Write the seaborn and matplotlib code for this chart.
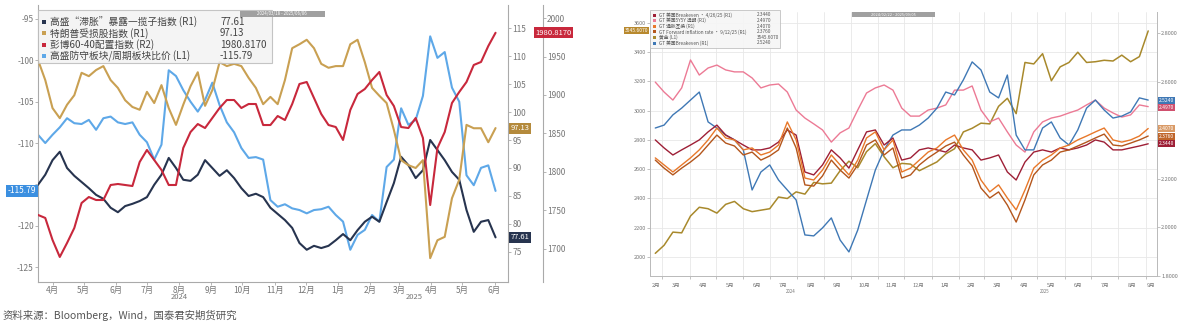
import numpy as np
import pandas as pd
import matplotlib
matplotlib.use('Agg')
import matplotlib.pyplot as plt
import matplotlib.dates as mdates
import matplotlib.transforms as mtransforms
from matplotlib.patches import Rectangle
from matplotlib.ticker import FixedLocator, FuncFormatter, NullFormatter
import seaborn as sns

sns.set_theme(style='white')
plt.rcParams['font.family'] = ['Noto Sans CJK SC', 'DejaVu Sans']
plt.rcParams['axes.unicode_minus'] = False

# ---------------- data: left panel (weekly, from 2024-03-18) ----------------
left_start = '2024-03-18'
stagflation_basket = [
    87.0, 88.8, 91.4, 92.9, 90.0, 88.6, 87.5, 86.4, 85.2, 84.5,
    82.9, 82.1, 83.2, 83.6, 84.1, 84.8, 87.0, 88.8, 91.8, 90.0,
    87.9, 87.7, 88.8, 91.4, 90.0, 88.6, 89.6, 88.2, 86.4, 85.0,
    85.4, 84.8, 82.9, 81.8, 80.7, 79.3, 76.6, 75.4, 76.1, 75.7,
    76.1, 77.1, 78.2, 77.1, 78.9, 80.4, 81.3, 80.4, 83.9, 87.3,
    92.0, 90.5, 88.2, 89.6, 95.0, 93.2, 91.4, 89.3, 87.9, 82.5,
    78.6, 80.4, 80.7, 77.61]
trump_loser = [
    109.3, 105.7, 100.7, 98.9, 101.3, 103.0, 107.0, 106.4, 107.5, 108.2,
    105.7, 104.3, 102.1, 100.9, 100.4, 103.6, 101.6, 104.8, 100.7, 97.7,
    101.3, 104.6, 107.1, 101.1, 103.9, 108.9, 108.2, 108.6, 108.2, 106.1,
    104.3, 101.4, 102.7, 101.4, 105.7, 111.4, 112.1, 112.9, 111.4, 108.6,
    107.9, 108.2, 108.2, 112.1, 112.9, 108.9, 104.3, 102.9, 101.6, 96.8,
    91.4, 90.5, 90.0, 91.4, 73.9, 77.1, 77.7, 84.6, 87.9, 97.7,
    97.1, 97.1, 94.6, 97.13]
bbg_6040 = [
    1744.2, 1740.3, 1711.7, 1689.6, 1707.8, 1727.3, 1759.7, 1767.5, 1763.6, 1763.6,
    1783.1, 1784.4, 1783.1, 1781.8, 1813.0, 1828.6, 1815.6, 1802.6, 1783.1, 1783.1,
    1831.2, 1851.9, 1862.3, 1857.1, 1870.1, 1883.1, 1893.5, 1893.5, 1883.1, 1888.3,
    1888.3, 1861.0, 1861.0, 1872.7, 1867.5, 1888.3, 1914.3, 1916.9, 1896.1, 1875.3,
    1861.0, 1858.4, 1841.6, 1880.5, 1901.3, 1907.8, 1919.5, 1929.9, 1900.0, 1885.7,
    1858.4, 1857.1, 1870.1, 1844.2, 1757.1, 1831.2, 1851.9, 1889.6, 1903.9, 1916.9,
    1939.0, 1942.9, 1963.6, 1980.817]
defensive_cyclical = [
    -109.0, -110.0, -109.0, -108.1, -107.0, -107.6, -107.7, -107.2, -108.4, -107.0,
    -106.8, -107.5, -107.7, -107.5, -109.0, -109.9, -112.0, -110.2, -101.2, -101.9,
    -103.6, -105.0, -106.2, -104.8, -102.7, -105.4, -107.5, -108.7, -110.6, -111.8,
    -111.7, -112.0, -116.9, -117.7, -117.4, -117.9, -118.1, -118.5, -118.1, -118.0,
    -117.7, -118.7, -119.5, -122.9, -121.1, -120.5, -118.7, -119.5, -112.9, -112.0,
    -105.8, -107.8, -107.2, -104.3, -97.1, -99.7, -99.0, -103.3, -105.0, -113.9,
    -115.1, -113.0, -112.7, -115.79]
left_names = ['高盛“滞胀”暴露一揽子指数 (R1)', '特朗普受损股指数 (R1)',
              '彭博60-40配置指数 (R2)', '高盛防守板块/周期板块比价 (L1)']
left_last = ['77.61', '97.13', '1980.8170', '-115.79']
left_colors = ['#27344f', '#c9a052', '#c8283c', '#5ea8e8']

# ---------------- data: right panel (every 10 days, from 2024-02-22) ----------------
right_start = '2024-02-22'
be_darkred = [
    2.360, 2.327, 2.298, 2.319, 2.339, 2.360, 2.393, 2.421, 2.380, 2.360,
    2.339, 2.319, 2.319, 2.327, 2.351, 2.401, 2.380, 2.228, 2.216, 2.257,
    2.319, 2.286, 2.244, 2.319, 2.393, 2.401, 2.339, 2.368, 2.277, 2.286,
    2.319, 2.327, 2.319, 2.310, 2.339, 2.327, 2.319, 2.277, 2.286, 2.298,
    2.228, 2.195, 2.269, 2.310, 2.319, 2.310, 2.327, 2.319, 2.327, 2.339,
    2.360, 2.351, 2.319, 2.319, 2.327, 2.335, 2.344]
be_pink = [
    2.598, 2.557, 2.524, 2.574, 2.689, 2.627, 2.656, 2.668, 2.648, 2.640,
    2.640, 2.615, 2.574, 2.586, 2.590, 2.557, 2.483, 2.450, 2.426, 2.401,
    2.351, 2.389, 2.409, 2.483, 2.553, 2.574, 2.586, 2.565, 2.491, 2.458,
    2.458, 2.483, 2.491, 2.504, 2.565, 2.565, 2.582, 2.483, 2.434, 2.450,
    2.393, 2.339, 2.310, 2.393, 2.434, 2.450, 2.458, 2.471, 2.483, 2.504,
    2.524, 2.491, 2.471, 2.454, 2.463, 2.504, 2.497]
be_orange = [
    2.286, 2.257, 2.228, 2.257, 2.286, 2.319, 2.360, 2.409, 2.368, 2.360,
    2.319, 2.327, 2.298, 2.310, 2.339, 2.434, 2.360, 2.203, 2.195, 2.236,
    2.298, 2.257, 2.216, 2.277, 2.368, 2.393, 2.319, 2.360, 2.228, 2.244,
    2.277, 2.310, 2.327, 2.360, 2.380, 2.319, 2.277, 2.195, 2.146, 2.175,
    2.121, 2.072, 2.154, 2.244, 2.277, 2.298, 2.327, 2.339, 2.360, 2.376,
    2.393, 2.409, 2.360, 2.351, 2.360, 2.376, 2.407]
be_brown = [
    2.277, 2.244, 2.216, 2.244, 2.269, 2.298, 2.339, 2.380, 2.347, 2.335,
    2.298, 2.310, 2.277, 2.294, 2.319, 2.409, 2.327, 2.175, 2.170, 2.212,
    2.277, 2.236, 2.203, 2.257, 2.339, 2.360, 2.298, 2.327, 2.203, 2.216,
    2.257, 2.286, 2.310, 2.335, 2.351, 2.298, 2.253, 2.162, 2.121, 2.146,
    2.092, 2.022, 2.113, 2.216, 2.257, 2.277, 2.310, 2.319, 2.335, 2.351,
    2.368, 2.384, 2.339, 2.335, 2.347, 2.360, 2.376]
gold = [
    2025, 2080, 2170, 2165, 2280, 2340, 2330, 2300, 2360, 2380,
    2330, 2310, 2320, 2330, 2410, 2400, 2445, 2430, 2510, 2500,
    2505, 2590, 2655, 2610, 2720, 2775, 2685, 2610, 2640, 2635,
    2590, 2620, 2650, 2705, 2740, 2855, 2880, 2915, 2910, 3030,
    3085, 2980, 3330, 3320, 3390, 3205, 3300, 3330, 3400, 3330,
    3335, 3345, 3340, 3380, 3335, 3370, 3545.6]
be_blue = [
    2.409, 2.421, 2.463, 2.491, 2.524, 2.557, 2.434, 2.409, 2.380, 2.360,
    2.319, 2.154, 2.228, 2.257, 2.195, 2.154, 2.113, 1.969, 1.965, 1.998,
    2.039, 1.948, 1.899, 1.989, 2.113, 2.236, 2.319, 2.380, 2.401, 2.401,
    2.421, 2.450, 2.491, 2.557, 2.545, 2.607, 2.681, 2.648, 2.557, 2.533,
    2.627, 2.380, 2.319, 2.319, 2.409, 2.434, 2.368, 2.339, 2.401, 2.491,
    2.524, 2.483, 2.450, 2.458, 2.475, 2.533, 2.524]
right_names = ['GT 美国Breakeven · 4/26/25 (R1)', 'GT 美国5Y5Y 远期 (R1)', 'GT 通胀互换 (R1)',
               'GT Forward inflation rate · 9/12/25 (R1)', '黄金 (L1)', 'GT 美国Breakeven (R1)']
right_last = ['2.3440', '2.4970', '2.4070', '2.3760', '3545.6070', '2.5240']
right_colors = ['#9e1f36', '#ec7a95', '#e8782a', '#b4561c', '#a8892c', '#3f78b5']

W, H = 1182, 321
fig = plt.figure(figsize=(W / 100, H / 100), dpi=100)
fig.patch.set_facecolor('white')


def fx(px):
    return px / W


def fy(py):
    return 1 - py / H


GRAY = '#777777'
SPINE = '#aaaaaa'


def plot_series(ax, dates, values, color, lw):
    df = pd.DataFrame({'date': dates, 'value': values})
    sns.lineplot(data=df, x='date', y='value', ax=ax, color=color, linewidth=lw, legend=False)
    ax.set_xlabel('')
    ax.set_ylabel('')


def tag(ax, xa, y, text, color, ha, size):
    tr = mtransforms.blended_transform_factory(ax.transAxes, ax.transData)
    ax.text(xa, y, text, transform=tr, ha=ha, va='center', fontsize=size, color='white',
            bbox=dict(boxstyle='square,pad=0.2', fc=color, ec='none'), clip_on=False, zorder=20)


def spread(vals, gap):
    order = np.argsort(vals)[::-1]
    out = list(vals)
    prev = None
    for i in order:
        v = vals[i]
        if prev is not None and prev - v < gap:
            v = prev - gap
        out[i] = v
        prev = v
    return out


def month_centers(xmin, xmax):
    starts = pd.date_range(xmin.to_period('M').to_timestamp(), xmax, freq='MS')
    centers, labels = [], []
    for s in starts:
        e = s + pd.offsets.MonthBegin(1)
        a, b = max(s, xmin), min(e, xmax)
        if (b - a).days >= 5:
            centers.append(a + (b - a) / 2)
            labels.append(f'{s.month}月')
    return centers, labels


def year_centers(xmin, xmax):
    out = []
    for y in range(xmin.year, xmax.year + 1):
        a = max(pd.Timestamp(f'{y}-01-01'), xmin)
        b = min(pd.Timestamp(f'{y + 1}-01-01'), xmax)
        out.append((a + (b - a) / 2, str(y)))
    return out

# ====================== LEFT PANEL ======================
axL = fig.add_axes([fx(38), fy(282), fx(470), 277 / H])
axR1 = axL.twinx()
axR2 = axL.twinx()
axR2.spines['right'].set_position(('outward', 25))

ldates = pd.date_range(left_start, periods=len(stagflation_basket), freq='7D')
plot_series(axL, ldates, defensive_cyclical, left_colors[3], 1.5)
plot_series(axR1, ldates, stagflation_basket, left_colors[0], 1.5)
plot_series(axR1, ldates, trump_loser, left_colors[1], 1.5)
plot_series(axR2, ldates, bbg_6040, left_colors[2], 1.5)

lx0, lx1 = pd.Timestamp('2024-03-18'), pd.Timestamp('2025-06-14')
axL.set_xlim(lx0, lx1)
axL.set_ylim(-126.8, -93.31)
axR1.set_ylim(69.64, 119.11)
axR2.set_ylim(1657.1, 2016.9)
axL.set_yticks(np.arange(-125, -94, 5))
axR1.set_yticks(np.arange(75, 116, 5))
axR2.set_yticks(np.arange(1700, 2001, 50))
# the last-value tag on the left axis covers the -115 label, as in the original
axL.yaxis.set_major_formatter(FuncFormatter(lambda v, p: '' if abs(v + 115) < 0.01 else f'{v:.0f}'))
for a in (axR1, axR2):
    a.yaxis.set_major_formatter(FuncFormatter(lambda v, p: f'{v:.0f}'))
for a in (axL, axR1, axR2):
    for s in a.spines.values():
        s.set_color(SPINE)
        s.set_linewidth(0.8)
    a.spines['top'].set_visible(False)
axL.spines['right'].set_visible(False)
for a in (axR1, axR2):
    a.spines['left'].set_visible(False)
    a.spines['bottom'].set_visible(False)
axL.tick_params(axis='y', left=True, length=2, width=0.6, color=SPINE, labelsize=6, labelcolor=GRAY, pad=1)
for a in (axR1, axR2):
    a.tick_params(axis='y', right=True, length=2, width=0.6, color=SPINE, labelsize=6, labelcolor=GRAY, pad=1)

axL.xaxis.set_major_locator(FixedLocator(mdates.date2num(pd.date_range('2024-04-01', lx1, freq='MS'))))
axL.xaxis.set_major_formatter(FuncFormatter(lambda v, p: f'{mdates.num2date(v).month}月'))
axL.tick_params(axis='x', bottom=True, length=2, width=0.6, color=SPINE, labelsize=6, labelcolor=GRAY, pad=1)
trL = mtransforms.blended_transform_factory(axL.transData, axL.transAxes)
for d, t in year_centers(lx0, lx1):
    axL.text(mdates.date2num(d) - 8, -0.055, t, transform=trL, ha='center', va='center',
             fontsize=5.5, color=GRAY)

tag(axL, -0.004, defensive_cyclical[-1], left_last[3], '#3b8fe0', 'right', 6)
tag(axR1, 1.006, stagflation_basket[-1], left_last[0], '#27344f', 'left', 5.5)
tag(axR1, 1.006, trump_loser[-1], left_last[1], '#b48a3c', 'left', 5.5)
tag(axR2, 1.058, bbg_6040[-1], left_last[2], '#c8283c', 'left', 5.5)

# legend box (left)
fig.add_artist(Rectangle((fx(38), fy(63)), fx(234), (63 - 10) / H, transform=fig.transFigure,
                         fc='#f3f3f3', ec='#bbbbbb', lw=0.8, alpha=0.85, zorder=5))
for i, (name, val, col) in enumerate(zip(left_names, left_last, left_colors)):
    yy = 22 + i * 11.3
    fig.add_artist(Rectangle((fx(42), fy(yy + 2)), fx(4), 4 / H, transform=fig.transFigure,
                             fc=col, ec='none', zorder=6))
    fig.text(fx(50), fy(yy), name, fontsize=7, color='#444444', va='center', ha='left', zorder=6)
    fig.text(fx(220), fy(yy), val, fontsize=7, color='#444444', va='center', ha='left', zorder=6)
fig.add_artist(Rectangle((fx(240), fy(17)), fx(85), 6 / H, transform=fig.transFigure,
                         fc='#a0a0a0', ec='none', zorder=6))
fig.text(fx(282), fy(14), '2024/03/18 - 2025/06/06', fontsize=3.2, color='white', ha='center',
         va='center', zorder=7)

# ====================== RIGHT PANEL ======================
axB = fig.add_axes([fx(650), fy(276), fx(507), 264 / H])
axBR = axB.twinx()
rdates = pd.date_range(right_start, periods=len(gold), freq='10D')

plot_series(axB, rdates, gold, right_colors[4], 1.1)
plot_series(axBR, rdates, be_pink, right_colors[1], 1.0)
plot_series(axBR, rdates, be_blue, right_colors[5], 1.0)
plot_series(axBR, rdates, be_darkred, right_colors[0], 1.0)
plot_series(axBR, rdates, be_brown, right_colors[3], 1.0)
plot_series(axBR, rdates, be_orange, right_colors[2], 1.0)

rx0, rx1 = pd.Timestamp('2024-02-16'), pd.Timestamp('2025-09-14')
axB.set_xlim(rx0, rx1)
axB.set_ylim(1870, 3675)
axBR.set_ylim(1.80, 2.8864)
axB.set_yticks(np.arange(2000, 3601, 200))
axBR.set_yticks(np.arange(1.8, 2.81, 0.2))
axB.yaxis.set_major_formatter(FuncFormatter(lambda v, p: f'{v:.0f}'))
# the stacked last-value tags cover the 2.4000 label, as in the original
axBR.yaxis.set_major_formatter(FuncFormatter(lambda v, p: '' if abs(v - 2.4) < 1e-6 else f'{v:.4f}'))
for a in (axB, axBR):
    for s in a.spines.values():
        s.set_color('#bbbbbb')
        s.set_linewidth(0.7)
    a.spines['top'].set_visible(False)
axB.grid(True, axis='both', color='#e8e8e8', lw=0.6)
axB.set_axisbelow(True)
axB.tick_params(axis='y', left=True, length=2, width=0.5, color=SPINE, labelsize=4, labelcolor=GRAY, pad=1)
axBR.tick_params(axis='y', right=True, length=2, width=0.5, color=SPINE, labelsize=4, labelcolor=GRAY, pad=1)

rcent, rlab = month_centers(rx0, rx1)
axB.xaxis.set_major_locator(FixedLocator(mdates.date2num(pd.date_range('2024-03-01', rx1, freq='MS'))))
axB.xaxis.set_major_formatter(NullFormatter())
axB.xaxis.set_minor_locator(FixedLocator(mdates.date2num(rcent)))
axB.xaxis.set_minor_formatter(FuncFormatter(lambda v, p: rlab[p] if p is not None and p < len(rlab) else ''))
axB.tick_params(axis='x', which='major', bottom=True, length=2, width=0.5, color=SPINE)
axB.tick_params(axis='x', which='minor', bottom=False, labelsize=4, labelcolor=GRAY, pad=1)
trB = mtransforms.blended_transform_factory(axB.transData, axB.transAxes)
for d, t in year_centers(rx0, rx1):
    axB.text(mdates.date2num(d), -0.058, t, transform=trB, ha='center', va='center',
             fontsize=3.2, color=GRAY)

tag(axB, -0.003, gold[-1], right_last[4], '#b8892e', 'right', 3.6)
r_tag_vals = [be_blue[-1], be_pink[-1], be_orange[-1], be_brown[-1], be_darkred[-1]]
r_tag_text = [right_last[5], right_last[1], right_last[2], right_last[3], right_last[0]]
r_tag_col = [right_colors[5], '#d0506e', '#d99a66', '#c0652a', right_colors[0]]
for v, t, c in zip(spread(r_tag_vals, 0.031), r_tag_text, r_tag_col):
    tag(axBR, 1.004, v, t, c, 'left', 3.6)

fig.add_artist(Rectangle((fx(650), fy(48)), fx(130), 38 / H, transform=fig.transFigure,
                         fc='#f6f6f6', ec='#bbbbbb', lw=0.6, alpha=0.9, zorder=5))
for i, (name, val, col) in enumerate(zip(right_names, right_last, right_colors)):
    yy = 15 + i * 5.6
    fig.add_artist(Rectangle((fx(653), fy(yy + 1.5)), fx(3), 3 / H, transform=fig.transFigure,
                             fc=col, ec='none', zorder=6))
    fig.text(fx(659), fy(yy), name, fontsize=3.4, color='#555555', va='center', ha='left', zorder=6)
    fig.text(fx(757), fy(yy), val, fontsize=3.4, color='#555555', va='center', ha='left', zorder=6)
fig.add_artist(Rectangle((fx(852), fy(17)), fx(83), 5 / H, transform=fig.transFigure,
                         fc='#a0a0a0', ec='none', zorder=6))
fig.text(fx(893), fy(14.5), '2024/02/22 - 2025/09/05', fontsize=2.8, color='white', ha='center',
         va='center', zorder=7)

# footer
fig.text(fx(3), fy(315), '资料来源：Bloomberg，Wind，国泰君安期货研究', fontsize=7.5,
         color='#555555', va='center', ha='left')

fig.savefig('out.png', dpi=100, facecolor='white')
